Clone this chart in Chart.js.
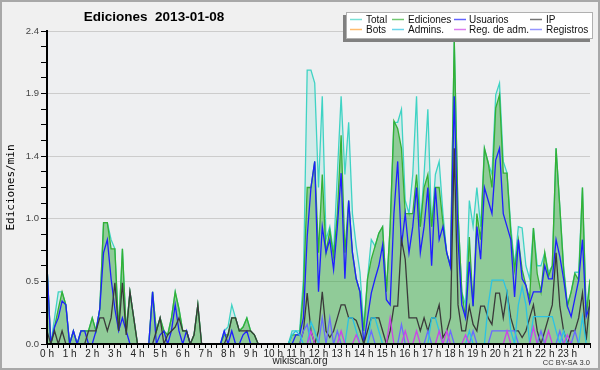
<!DOCTYPE html>
<html>
<head>
<meta charset="utf-8">
<script src="https://cdn.jsdelivr.net/npm/chart.js@4.4.1/dist/chart.umd.min.js"></script>
<style>
  html, body { margin: 0; padding: 0; background: #f0f0f0; }
  canvas { display: block; }
</style>
</head>
<body>
<canvas id="chart" width="600" height="370"></canvas>
<script>
// 10-minute bins over the day, x in hours
const hours = [];
for (let i = 0; i <= 144; i++) hours.push(i / 6);

const hourLabels = ['0 h', '1 h', '2 h', '3 h', '4 h', '5 h', '6 h', '7 h', '8 h', '9 h', '10 h', '11 h',
  '12 h', '13 h', '14 h', '15 h', '16 h', '17 h', '18 h', '19 h', '20 h', '21 h', '22 h', '23 h'];
const yLabels = ['0.0', '0.5', '1.0', '1.4', '1.9', '2.4'];

const total = [
  .6, 0, .2, .4, .4, .3, 0, .1, 0, .1,
  .1, .1, .2, .1, .27, .93, .93, .8, .73, .1,
  .73, .1, .4, .2, 0, 0, 0, 0, .4, .1,
  .2, .1, .07, .2, .4, .27, .1, .1, 0, .07,
  .3, 0, 0, 0, 0, 0, 0, .1, .13, .3,
  .2, .1, .13, .2, .1, .07, 0, 0, 0, 0,
  0, 0, 0, 0, 0, .1, .1, .1, .5, 2.1,
  2.1, 2.0, 1.2, 1.9, .8, .9, .7, 1.3, 1.9, 1.3,
  1.7, 1.0, .75, .55, .13, .5, .8, .75, .85, .9,
  .4, .9, 1.7, 1.7, 1.8, 1.1, 1.0, 1.3, 1.9, .9,
  1.3, 1.8, .9, 1.3, 1.4, 1.0, .7, .6, 2.33, 1.0,
  .4, .3, 1.1, .9, 1.2, .9, 1.5, 1.39, 1.3, 1.91,
  2.0, 1.4, 1.31, .9, .6, .9, .89, .6, .5, .89,
  .6, .6, .7, .55, .6, 1.5, 1.05, .6, .3, .4,
  .55, .55, 1.2, .25, .5
];

const ediciones = [
  .6, 0, .13, .27, .4, .3, 0, .1, 0, .1,
  .1, .1, .2, .1, .27, .93, .93, .73, .73, .1,
  .73, .1, .4, .2, 0, 0, 0, 0, .4, .1,
  .2, .1, .07, .2, .4, .27, .1, .1, 0, .07,
  .3, 0, 0, 0, 0, 0, 0, .07, .07, .2,
  .2, .1, .13, .2, .1, .07, 0, 0, 0, 0,
  0, 0, 0, 0, 0, .07, .07, .07, .4, 1.2,
  1.2, 1.4, .7, 1.3, .7, .87, .67, 1.0, 1.6, .7,
  1.1, .7, .5, .4, .1, .5, .65, .75, .85, .9,
  .4, .9, 1.71, 1.65, 1.5, 1.0, 1.0, 1.0, 1.3, .9,
  1.2, 1.3, .9, 1.2, 1.2, .93, .7, .6, 2.33, 1.0,
  .4, .2, .82, .29, 1.0, .8, 1.5, 1.39, 1.2, 1.81,
  1.91, 1.31, 1.31, .85, .57, .8, .57, .45, .35, .89,
  .54, .4, .7, .52, .6, 1.5, 1.05, .57, .29, .4,
  .54, .49, 1.2, .21, .49
];

const usuarios = [
  .6, 0, .13, .2, .33, .3, 0, .1, 0, .1,
  .1, 0, 0, .1, .27, .7, .8, .5, .27, .1,
  .2, .1, 0, 0, 0, 0, 0, 0, .4, 0,
  .07, .1, 0, .1, .3, .1, 0, .1, 0, 0,
  0, 0, 0, 0, 0, 0, 0, .1, 0, .1,
  0, 0, .07, .1, 0, 0, 0, 0, 0, 0,
  0, 0, 0, 0, 0, 0, .07, .07, .2, .82,
  1.2, 1.4, .4, .9, .7, .8, .57, .9, 1.31, .5,
  1.1, .7, .5, .4, 0, .2, .39, .5, .6, .76,
  .34, .3, 1.0, 1.4, .75, 1.0, .7, .9, 1.2, .7,
  .9, 1.2, .6, 1.2, .8, .9, .7, .59, 1.9, .8,
  .3, .2, .63, .29, .9, .65, 1.2, 1.1, 1.0, 1.41,
  1.5, 1.0, .9, .8, .36, .8, .5, .45, .31, .4,
  .4, .4, .6, .5, .5, .8, .67, .5, .29, .21,
  .35, .49, .8, .21, .3
];

const ip = [
  .1, 0, .1, 0, .1, 0, 0, 0, 0, 0,
  0, .1, .1, .1, .2, .2, .1, .2, .47, .1,
  .47, .07, .4, .2, 0, 0, 0, 0, 0, .1,
  .2, 0, .07, .1, .13, .2, .1, .1, 0, .07,
  .3, 0, 0, 0, 0, 0, 0, 0, .07, .2,
  .2, .1, .1, .1, .1, .07, 0, 0, 0, 0,
  0, 0, 0, 0, 0, 0, 0, 0, .1, .39,
  .1, 0, .1, .4, .1, .05, .1, .2, .3, .3,
  .2, .2, .18, .1, 0, .1, .2, .2, .2, .1,
  0, .1, .29, .29, .8, .65, .2, .2, .2, .1,
  .2, .1, .2, .2, .3, .05, .1, .2, 1.5, .3,
  .1, .1, .29, .15, .1, .29, .29, .2, .15, .39,
  .39, .2, .39, .2, .1, .1, .05, .1, .2, .3,
  .1, 0, .1, .2, .3, .7, .29, .1, 0, .1,
  .1, .2, .39, .03, .34
];

const bots = [];

const admins = [
  0, 0, 0, 0, 0, 0, 0, 0, 0, 0,
  0, 0, 0, 0, 0, 0, 0, 0, 0, 0,
  0, 0, 0, 0, 0, 0, 0, 0, 0, 0,
  0, 0, 0, 0, 0, 0, 0, 0, 0, 0,
  0, 0, 0, 0, 0, 0, 0, 0, 0, 0,
  0, 0, 0, 0, 0, 0, 0, 0, 0, 0,
  0, 0, 0, 0, 0, .07, .1, .07, 0, 0,
  .17, .1, 0, 0, 0, 0, 0, 0, 0, 0,
  .2, .2, .1, 0, 0, 0, .2, .2, .1, 0,
  0, 0, 0, 0, 0, 0, 0, 0, 0, 0,
  0, 0, .2, .2, .1, 0, 0, 0, 0, 0,
  0, 0, .1, 0, 0, 0, 0, .3, .49, .49,
  .49, .49, .4, .1, 0, .3, .44, .3, 0, .21,
  .21, .21, .21, .21, .21, .1, 0, .1, 0, 0,
  0, 0, .21, 0, 0
];

const regAdm = [
  0, 0, 0, 0, 0, 0, 0, 0, 0, 0,
  0, 0, 0, 0, 0, 0, 0, 0, 0, 0,
  0, 0, 0, 0, 0, 0, 0, 0, 0, 0,
  0, 0, 0, 0, 0, 0, 0, 0, 0, 0,
  0, 0, 0, 0, 0, 0, 0, 0, 0, 0,
  0, 0, 0, 0, 0, 0, 0, 0, 0, 0,
  0, 0, 0, 0, 0, 0, 0, 0, 0, 0,
  .1, 0, 0, 0, 0, 0, 0, 0, .1, 0,
  0, 0, .07, 0, 0, 0, 0, 0, 0, 0,
  0, .2, 0, 0, 0, .1, 0, 0, .1, 0,
  0, 0, 0, 0, .1, 0, .1, 0, 0, 0,
  0, .07, 0, 0, 0, 0, 0, 0, 0, 0,
  0, 0, .1, 0, 0, 0, 0, 0, 0, .13,
  0, 0, 0, .1, 0, 0, 0, 0, .07, 0,
  0, 0, 0, 0, 0
];

const registros = [
  0, 0, 0, 0, 0, 0, 0, 0, 0, 0,
  0, 0, 0, 0, 0, 0, 0, 0, 0, 0,
  0, 0, 0, 0, 0, 0, 0, 0, 0, 0,
  0, 0, 0, 0, 0, 0, 0, 0, 0, 0,
  0, 0, 0, 0, 0, 0, 0, 0, 0, 0,
  0, 0, 0, 0, 0, 0, 0, 0, 0, 0,
  0, 0, 0, 0, 0, 0, 0, 0, .1, .15,
  0, 0, 0, .2, 0, .2, 0, .1, 0, 0,
  0, 0, 0, 0, 0, 0, .1, 0, 0, 0,
  0, 0, 0, 0, .15, 0, 0, 0, 0, 0,
  0, .1, 0, 0, 0, 0, 0, .1, 0, 0,
  0, 0, 0, .1, 0, 0, 0, 0, .1, .1,
  .1, .1, .1, .1, .1, 0, 0, 0, 0, 0,
  0, .1, 0, 0, 0, 0, .1, 0, 0, 0,
  .1, 0, 0, 0, 0
];

// fixed frame: backgrounds, title, legend box, footer
const framePlugin = {
  id: 'frame',
  beforeDraw(chart) {
    const { ctx, chartArea: a } = chart;
    ctx.save();
    ctx.fillStyle = '#f0f0f0';
    ctx.fillRect(0, 0, chart.width, chart.height);
    ctx.fillStyle = '#eeeff1';
    ctx.fillRect(a.left, a.top, a.right - a.left, a.bottom - a.top);
    ctx.restore();
  },
  afterDatasetsDraw(chart) {
    const { ctx, chartArea: a } = chart;
    ctx.save();
    ctx.strokeStyle = '#000';
    ctx.lineWidth = 2;
    ctx.beginPath();
    ctx.moveTo(a.left, a.top);
    ctx.lineTo(a.left, a.bottom);
    ctx.lineTo(a.right, a.bottom);
    ctx.stroke();
    ctx.restore();
  },
  afterDraw(chart) {
    const ctx = chart.ctx;
    ctx.save();
    // title
    ctx.fillStyle = '#000';
    ctx.font = 'bold 13.5px "Liberation Sans"';
    ctx.textAlign = 'center';
    ctx.textBaseline = 'middle';
    ctx.fillText('Ediciones  2013-01-08', 154, 17);

    // legend box with shadow
    ctx.fillStyle = '#808080';
    ctx.fillRect(343, 15, 247, 27);
    ctx.fillStyle = '#ffffff';
    ctx.fillRect(346, 12, 247, 27);
    ctx.strokeStyle = '#b0b0b0';
    ctx.lineWidth = 1;
    ctx.strokeRect(346.5, 12.5, 246, 26);

    const colX = [350, 392, 454, 530];
    const textX = [366, 408, 469, 546];
    const rowY = [19.5, 29.5];
    ctx.font = '10px "Liberation Sans"';
    ctx.textAlign = 'left';
    chart.data.datasets.forEach((ds, k) => {
      const c = k % 4, r = Math.floor(k / 4);
      ctx.globalAlpha = 0.7;
      ctx.strokeStyle = ds.borderColor;
      ctx.lineWidth = 1.5;
      ctx.beginPath();
      ctx.moveTo(colX[c], rowY[r]);
      ctx.lineTo(colX[c] + 12, rowY[r]);
      ctx.stroke();
      ctx.globalAlpha = 1;
      ctx.fillStyle = '#111';
      ctx.fillText(ds.label, textX[c], rowY[r] + 0.5);
    });

    // footer
    ctx.fillStyle = '#222';
    ctx.font = '10px "Liberation Sans"';
    ctx.textAlign = 'center';
    ctx.fillText('wikiscan.org', 300, 361);
    ctx.font = '7.5px "Liberation Sans"';
    ctx.textAlign = 'right';
    ctx.fillStyle = '#333';
    ctx.fillText('CC BY-SA 3.0', 590, 363);

    // outer border
    ctx.strokeStyle = '#a8a8a8';
    ctx.lineWidth = 2;
    ctx.strokeRect(1, 1, 598, 368);
    ctx.restore();
  }
};

function line(label, data, color, order, fillColor) {
  return {
    label: label,
    data: data,
    borderColor: color,
    backgroundColor: fillColor || color,
    fill: fillColor ? 'origin' : false,
    order: order
  };
}

const ctx = document.getElementById('chart').getContext('2d');
new Chart(ctx, {
  type: 'line',
  data: {
    labels: hours,
    datasets: [
      line('Total', total, '#3fd3c4', 9, 'rgba(70, 205, 190, 0.15)'),
      line('Ediciones', ediciones, '#34b034', 8, 'rgba(50, 160, 40, 0.42)'),
      line('Usuarios', usuarios, '#1f1fff', 4),
      line('IP', ip, '#3a3a3a', 3),
      line('Bots', bots, '#ff9f30', 7),
      line('Admins.', admins, '#2cc3e3', 2),
      line('Reg. de adm.', regAdm, '#cc44e8', 1),
      line('Registros', registros, '#6a6aff', 2)
    ]
  },
  options: {
    responsive: false,
    animation: false,
    layout: { padding: { top: 31, right: 10, left: 0, bottom: 0 } },
    elements: {
      line: { borderWidth: 1.3, tension: 0 },
      point: { radius: 0 }
    },
    plugins: {
      legend: { display: false },
      tooltip: { enabled: false }
    },
    scales: {
      x: {
        type: 'linear',
        min: 0,
        max: 24,
        afterBuildTicks: (scale) => {
          const t = [];
          for (let k = 0; k <= 96; k++) t.push({ value: k / 4 });
          scale.ticks = t;
        },
        afterFit: (scale) => { scale.height = 26; },
        grid: { drawOnChartArea: false, tickLength: 4, tickColor: '#000' },
        border: { color: '#000', width: 2 },
        ticks: {
          autoSkip: false,
          maxRotation: 0,
          padding: 0,
          color: '#222',
          font: { family: 'Liberation Sans', size: 10 },
          callback: (v, i) => (i % 4 === 0 && hourLabels[i / 4]) ? hourLabels[i / 4] : ''
        }
      },
      y: {
        min: 0,
        max: 2.4,
        afterBuildTicks: (scale) => {
          const t = [];
          for (let k = 0; k <= 20; k++) t.push({ value: k * 0.12 });
          scale.ticks = t;
        },
        afterFit: (scale) => { scale.width = 47; },
        grid: {
          color: (c) => (c.index > 0 && c.index % 4 === 0) ? '#cccccc' : 'rgba(0,0,0,0)',
          tickColor: '#000',
          tickLength: 6
        },
        border: { color: '#000', width: 2 },
        ticks: {
          autoSkip: false,
          padding: 2,
          color: '#444',
          font: { family: 'Liberation Sans', size: 9.5 },
          callback: (v, i) => i % 4 === 0 ? yLabels[i / 4] : ''
        },
        title: {
          display: true,
          text: 'Ediciones/min',
          color: '#000',
          font: { family: 'DejaVu Sans Mono', size: 11 },
          padding: { top: 5, bottom: 0 }
        }
      }
    }
  },
  plugins: [framePlugin]
});
</script>
</body>
</html>
